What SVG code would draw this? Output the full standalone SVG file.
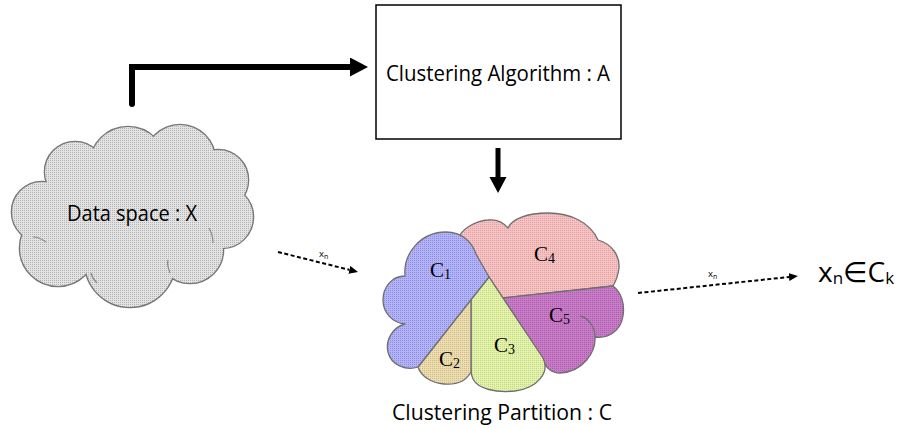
<svg xmlns="http://www.w3.org/2000/svg" xmlns:xlink="http://www.w3.org/1999/xlink" width="898" height="429" viewBox="0 0 898 429">
  <style>
    .lbl { font-family: "Open Sans", "Noto Sans", "DejaVu Sans", sans-serif; fill: #000; }
    .clab { font-family: "Liberation Serif", "DejaVu Serif", serif; font-size: 21px; fill: #000; }
    .sub { font-size: 14px; }
    .small { font-family: "Open Sans", "Noto Sans", sans-serif; font-size: 9.5px; fill: #000; }
    .piece { stroke: #6f6f6f; stroke-width: 1.3; stroke-linejoin: round; }
    .cloud-stroke { fill: url(#pGray); stroke: #777; stroke-width: 2.6; }
    .cloud-fill { fill: url(#pGray); stroke: none; }
    .thick { fill: none; stroke: #000; stroke-linejoin: miter; }
    .dash { fill: none; stroke: #000; stroke-width: 2; stroke-dasharray: 4 2.5; }
  </style>
  <defs>
    <pattern id="pGray" width="2" height="2" patternUnits="userSpaceOnUse"><rect width="2" height="2" fill="#e3e3e3"/><rect width="1" height="1" fill="#b3b3b3"/></pattern>
    <pattern id="pBlue" width="2" height="2" patternUnits="userSpaceOnUse"><rect width="2" height="2" fill="#b3b3fa"/><rect width="1" height="1" fill="#8d8ddd"/></pattern>
    <pattern id="pPink" width="2" height="2" patternUnits="userSpaceOnUse"><rect width="2" height="2" fill="#f6c2c2"/><rect width="1" height="1" fill="#dca0a0"/></pattern>
    <pattern id="pPurple" width="2" height="2" patternUnits="userSpaceOnUse"><rect width="2" height="2" fill="#c87cc8"/><rect width="1" height="1" fill="#a85ea8"/></pattern>
    <pattern id="pGreen" width="2" height="2" patternUnits="userSpaceOnUse"><rect width="2" height="2" fill="#e3f4aa"/><rect width="1" height="1" fill="#c4d48a"/></pattern>
    <pattern id="pTan" width="2" height="2" patternUnits="userSpaceOnUse"><rect width="2" height="2" fill="#ecdcae"/><rect width="1" height="1" fill="#ccbc8e"/></pattern>
    <g id="cloudShapes">
      <circle cx="75" cy="172" r="30"/>
      <circle cx="128" cy="165" r="38"/>
      <circle cx="180" cy="160" r="35"/>
      <circle cx="218" cy="180" r="30"/>
      <circle cx="222" cy="217" r="31"/>
      <circle cx="190" cy="250" r="33"/>
      <circle cx="130" cy="262" r="45"/>
      <circle cx="58" cy="248" r="38"/>
      <circle cx="42" cy="212" r="30"/>
      <ellipse cx="130" cy="215" rx="85" ry="55"/>
    </g>
    <marker id="headThick" markerUnits="userSpaceOnUse" markerWidth="20" markerHeight="20" refX="1" refY="9.5" orient="auto">
      <path d="M0,0 L18,9.5 L0,19 Z" fill="#000"/>
    </marker>
    <marker id="headDown" markerUnits="userSpaceOnUse" markerWidth="18" markerHeight="18" refX="1" refY="8.5" orient="auto">
      <path d="M0,0 L16,8.5 L0,17 Z" fill="#000"/>
    </marker>
    <marker id="headDash" markerUnits="userSpaceOnUse" markerWidth="10" markerHeight="10" refX="0" refY="4" orient="auto">
      <path d="M0,0 L9,4 L0,8 Z" fill="#000"/>
    </marker>
  </defs>

  <rect width="898" height="429" fill="#fff"/>

  <g id="data-space">
    <use href="#cloudShapes" class="cloud-stroke"/>
    <use href="#cloudShapes" class="cloud-fill"/>
    <g fill="none" stroke="#888" stroke-width="1.2">
      <path d="M33,237 C38,237 42,239 46,242"/>
      <path d="M209,228 C212,233 213,238 213,243"/>
      <path d="M170,273 C168,268 167,264 168,260"/>
      <path d="M97,283 C94,280 92,277 91,273"/>
    </g>
    <text class="lbl" x="67" y="221" font-size="21" textLength="130" lengthAdjust="spacingAndGlyphs">Data space : X</text>
  </g>

  <g id="algorithm">
    <rect x="376" y="5" width="245" height="134" fill="#fff" stroke="#000" stroke-width="1.5"/>
    <text class="lbl" x="386" y="81" font-size="21" textLength="224" lengthAdjust="spacingAndGlyphs">Clustering Algorithm : A</text>
  </g>

  <g id="partition">
    <path id="c4" class="piece" fill="url(#pPink)" d="M489,277 L503,298 L613,286 C616,281 618,276 619,268 C620,256 612,244 598,240 C590,222 570,213 548,213 C527,213 512,219 508,228 C503,222 496,219 488,220 C476,221 465,227 459,236 L468,252 Z"/>
    <path id="c5" class="piece" fill="url(#pPurple)" d="M503,298 L613,286 C621,292 625,303 623,316 C621,330 609,339 595,337 C596,352 583,372 560,373 C552,373 546,368 543,360 Z"/>
    <path fill="none" stroke="#6f6f6f" stroke-width="1.3" d="M580,316 C589,318 595,327 595,337"/>
    <path id="c3" class="piece" fill="url(#pGreen)" d="M489,277 L543,358 C550,372 538,388 515,391 C496,393 478,389 473,379 C471,375 471,372 471,369 L471,299 Z"/>
    <path id="c2" class="piece" fill="url(#pTan)" d="M418,367 L471,299 L471,372 C466,381 456,385 444,384 C431,383 421,376 418,367 Z"/>
    <path id="c1" class="piece" fill="url(#pBlue)" d="M489,277 L418,367 C406,371 391,365 388,352 C385,340 393,327 405,324 C392,323 383,312 383,300 C383,287 392,276 405,276 C403,253 421,232 446,232 C462,232 472,242 476,254 Z"/>
    <text class="clab" x="430" y="277">C<tspan class="sub" dy="2">1</tspan></text>
    <text class="clab" x="534" y="261">C<tspan class="sub" dy="2">4</tspan></text>
    <text class="clab" x="549" y="322">C<tspan class="sub" dy="2">5</tspan></text>
    <text class="clab" x="494" y="352">C<tspan class="sub" dy="2">3</tspan></text>
    <text class="clab" x="439" y="366">C<tspan class="sub" dy="2">2</tspan></text>
    <text class="lbl" x="392" y="420" font-size="21" textLength="220" lengthAdjust="spacingAndGlyphs">Clustering Partition : C</text>
  </g>

  <g id="result">
    <text class="lbl" x="818" y="282" font-size="28">x<tspan font-size="17" dy="2">n</tspan><tspan dy="-2">∈C</tspan><tspan font-size="17" dy="2">k</tspan></text>
  </g>

  <g id="connectors">
    <path class="thick" stroke-width="6" d="M132,104 V67 H351" marker-end="url(#headThick)"/>
    <circle cx="132" cy="104" r="3" fill="#000"/>
    <path class="thick" stroke-width="5" d="M498,148 V178" marker-end="url(#headDown)"/>
    <path class="dash" d="M278,252 L349.3,269.8" marker-end="url(#headDash)"/>
    <text class="small" x="319" y="257">x<tspan font-size="7" dy="1.5">n</tspan></text>
    <path class="dash" d="M638,293 L789,277" marker-end="url(#headDash)"/>
    <text class="small" x="708" y="277">x<tspan font-size="7" dy="1.5">n</tspan></text>
  </g>
</svg>
